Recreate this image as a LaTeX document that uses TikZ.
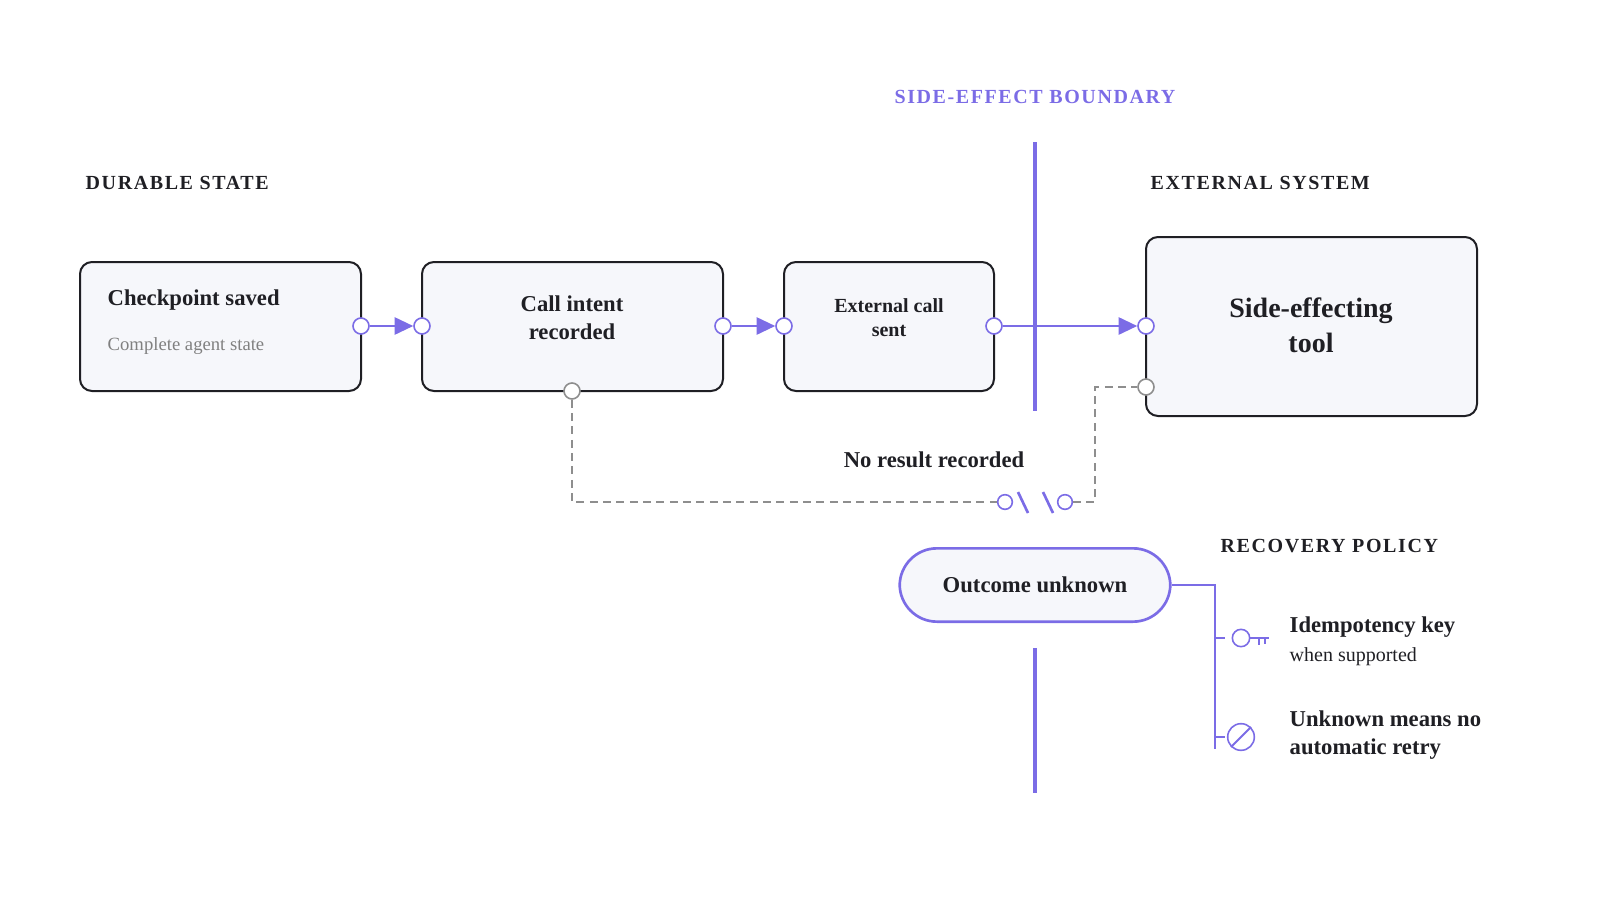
\documentclass[tikz,border=0pt]{standalone}
\usepackage{fontspec}
\setmainfont{Liberation Serif}
\usetikzlibrary{arrows.meta}
\definecolor{pur}{HTML}{7B6CE6}
\definecolor{boxfill}{HTML}{F6F7FB}
\definecolor{ink}{HTML}{1F1F24}
\definecolor{gry}{HTML}{8E8E8E}
\begin{document}
\begin{tikzpicture}[x=0.75pt,y=-0.75pt,
  box/.style={draw=ink,line width=1.5pt,fill=boxfill,rounded corners=9pt},
  port/.style={circle,draw=pur,fill=white,line width=1.2pt,minimum size=12pt,inner sep=0pt},
  gport/.style={circle,draw=gry,fill=white,line width=1.2pt,minimum size=12pt,inner sep=0pt},
  flow/.style={draw=pur,line width=1.5pt,-{Triangle[length=14pt,width=13pt]}},
  head/.style={font=\bfseries\fontsize{15}{18}\selectfont,text=ink,anchor=west},
  ttl/.style={font=\bfseries\fontsize{17}{21}\selectfont,text=ink,align=center},
  gdash/.style={draw=gry,line width=1.2pt,dash pattern=on 6pt off 4pt}]
\useasboundingbox (0,0) rectangle (1600,900);
% headings
\node[head] (hd) at (81,183) {\addfontfeature{LetterSpace=8}DURABLE STATE};
\node[head] (he) at (1146,183) {\addfontfeature{LetterSpace=8}EXTERNAL SYSTEM};
\node[font=\bfseries\fontsize{15}{18}\selectfont,text=pur] (hb) at (1035,97) {\addfontfeature{LetterSpace=8}SIDE-EFFECT BOUNDARY};
\node[head] (hr) at (1216,546) {\addfontfeature{LetterSpace=8}RECOVERY POLICY};
% boundary
\draw[pur,line width=2.5pt] (1035,142) coordinate (b1) -- (1035,411) coordinate (b2);
\draw[pur,line width=2.5pt] (1035,648) coordinate (b3) -- (1035,793) coordinate (b4);
% boxes
\draw[box] (80,262) rectangle (361,391);
\node[ttl,anchor=west] (t1) at (103,300) {Checkpoint saved};
\node[anchor=west,font=\fontsize{14}{17}\selectfont,text=gry!90!black] (s1) at (103,346) {Complete agent state};
\draw[box] (422,262) rectangle (723,391);
\node[ttl] (t2) at (572,318) {Call intent\\recorded};
\draw[box] (784,262) rectangle (994,391);
\node[ttl,font=\bfseries\fontsize{15}{18}\selectfont] (t3) at (889,318) {External call\\sent};
\draw[box] (1146,237) rectangle (1477,416);
\node[ttl,font=\bfseries\fontsize{21}{26}\selectfont] (t4) at (1311,325) {Side-effecting\\tool};
% ports and flow
\node[port] (p1) at (361,326) {}; \node[port] (p2) at (422,326) {};
\node[port] (p3) at (723,326) {}; \node[port] (p4) at (784,326) {};
\node[port] (p5) at (994,326) {}; \node[port] (p6) at (1146,326) {};
\draw[flow] (p1) -- (p2);
\draw[flow] (p3) -- (p4);
\draw[flow] (p5) -- (p6);
% dashed no-result path
\node[gport] (g1) at (572,391) {};
\node[gport] (g2) at (1146,387) {};
\node[port,minimum size=11pt] (c1) at (1005,502) {};
\node[port,minimum size=11pt] (c2) at (1065,502) {};
\draw[gdash] (g1) |- (c1);
\draw[gdash] (c2) -- (1095,502) coordinate (k1) |- (g2);
\draw[pur,line width=2pt] (1018,492) -- (1028,513);
\draw[pur,line width=2pt] (1043,492) -- (1053,513);
\node[ttl] (nr) at (934,460) {No result recorded};
% outcome
\node[draw=pur,line width=2pt,fill=boxfill,rounded corners=28pt,minimum width=203pt,minimum height=55pt,ttl] (ou) at (1035,585) {Outcome unknown};
% bracket
\draw[pur,line width=1.5pt] (ou.east) -- (1215,585) coordinate (k2) -- (1215,749) coordinate (k3);
\draw[pur,line width=1.5pt] (1215,638) -- (1225,638);
\draw[pur,line width=1.5pt] (1215,737) -- (1225,737);
\node[port,minimum size=13pt,fill=none] (key) at (1241,638) {};
\draw[pur,line width=1.5pt] (key.east) -- (1269,638) (1259,638) -- (1259,645) (1265,638) -- (1265,644);
\node[port,minimum size=20pt,fill=none] (no) at (1241,737) {};
\draw[pur,line width=1.5pt] (no.south west) -- (no.north east);
\node[head,font=\bfseries\fontsize{17}{21}\selectfont] (i1) at (1285,627) {Idempotency key};
\node[anchor=west,font=\fontsize{15}{18}\selectfont,text=ink] (i2) at (1285,657) {when supported};
\node[head,font=\bfseries\fontsize{17}{21}\selectfont,align=left] (u1) at (1285,735) {Unknown means no\\automatic retry};
\end{tikzpicture}
\end{document}
